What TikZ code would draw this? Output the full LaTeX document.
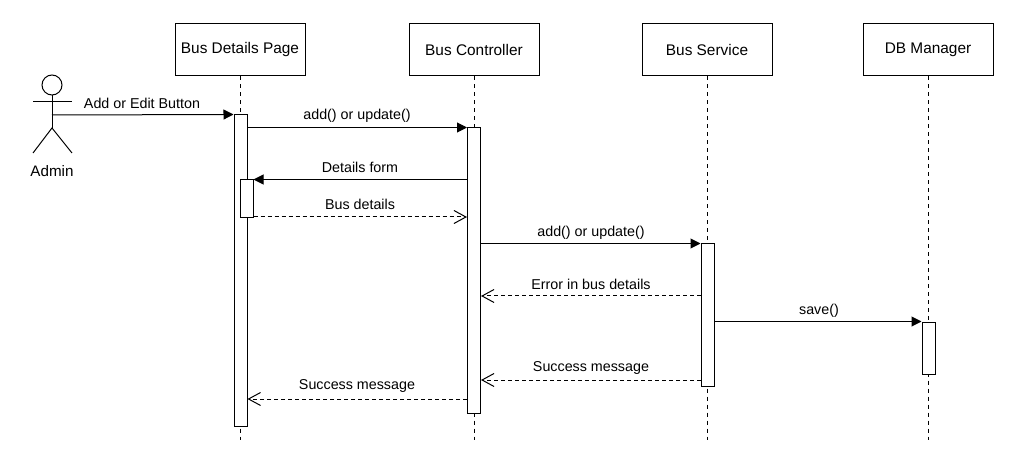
\documentclass[tikz,border=0pt]{standalone}
\usepackage{fontspec}
\setmainfont{Liberation Sans}
\usetikzlibrary{positioning}
\usetikzlibrary{arrows.meta}

\begin{document}
\begin{tikzpicture}
		[x=1pt, y=-1pt, line width=1pt, font=\fontsize{14.3}{17}\selectfont,
		head/.style={rectangle, draw=black, minimum width=130pt, minimum height=52pt, inner sep=0pt, font=\fontsize{15.4}{18}\selectfont},
		bar/.style={rectangle, draw=black, fill=white, minimum width=13pt, inner sep=0pt},
		lifeline/.style={dash pattern=on 4pt off 4pt},
		call/.style={-{Triangle[width=10pt,length=10pt]}},
		reply/.style={dash pattern=on 4pt off 3pt, -{Straight Barb[length=12pt,width=13pt]}},
		label/.style={inner sep=0pt}]
		\useasboundingbox (0,0) rectangle (1010,449);

		% header boxes
		\node[head] (page) at (240,50) {Bus Details Page};
		\node[head] (ctrl) at (474,50) {Bus Controller};
		\node[head] (serv) at (707,50) {Bus Service};
		\node[head] (dbm) at (928,50) {DB Manager};

		\coordinate (pageend) at (240,440);
		\coordinate (ctrlend) at (474,440);
		\coordinate (servend) at (707,440);
		\coordinate (dbmend) at (928,440);
		\draw[lifeline] (page.south) -- (pageend);
		\draw[lifeline] (ctrl.south) -- (ctrlend);
		\draw[lifeline] (serv.south) -- (servend);
		\draw[lifeline] (dbm.south) -- (dbmend);

		% activation bars
		\node[bar, minimum height=311pt] (pagebar) at (240.5,270.5) {};
		\node[bar, minimum height=38pt] (formbar) at (246.5,199) {};
		\node[bar, minimum height=285pt] (ctrlbar) at (474,270.5) {};
		\node[bar, minimum height=142pt] (servbar) at (707.5,315) {};
		\node[bar, minimum height=52pt] (dbmbar) at (928.5,348) {};

		% actor
		\node[circle, draw=black, minimum size=20pt, inner sep=0pt] (adminhead) at (52,85) {};
		\coordinate (armleft) at (33,102);
		\coordinate (armright) at (72,102);
		\coordinate (hip) at (52,128);
		\coordinate (footleft) at (33,153);
		\coordinate (footright) at (72,153);
		\coordinate (hand) at (52,115);
		\draw (adminhead.south) -- (hip);
		\draw (armleft) -- (armright);
		\draw (footleft) -- (hip) -- (footright);
		\node[label, font=\fontsize{15.2}{18}\selectfont] (admin) at (52,171) {Admin};

		% messages
		\coordinate (m1) at (pagebar.north west);
		\draw[call] (hand) -- (m1);
		\node[label] (m1text) at (142,103) {Add or Edit Button};

		\coordinate (m2) at (pagebar.east |- ctrlbar.north);
		\draw[call] (m2) -- (ctrlbar.north west);
		\node[label] (m2text) at (357,116) {add() or update()};

		\coordinate (m3) at (ctrlbar.west |- formbar.north);
		\draw[call] (m3) -- (formbar.north east);
		\node[label] (m3text) at (360,167) {Details form};

		\coordinate (m4) at (formbar.east |- 0,217);
		\coordinate (m4end) at (ctrlbar.west |- 0,217);
		\draw[reply] (m4) -- (m4end);
		\node[label] (m4text) at (360,204) {Bus details};

		\coordinate (m5) at (ctrlbar.east |- servbar.north);
		\draw[call] (m5) -- (servbar.north west);
		\node[label] (m5text) at (591,233) {add() or update()};

		\coordinate (m6) at (servbar.west |- 0,296);
		\coordinate (m6end) at (ctrlbar.east |- 0,296);
		\draw[reply] (m6) -- (m6end);
		\node[label] (m6text) at (591,284) {Error in bus details};

		\coordinate (m7) at (servbar.east |- dbmbar.north);
		\draw[call] (m7) -- (dbmbar.north west);
		\node[label] (m7text) at (819,311) {save()};

		\coordinate (m8) at (servbar.west |- 0,380);
		\coordinate (m8end) at (ctrlbar.east |- 0,380);
		\draw[reply] (m8) -- (m8end);
		\node[label] (m8text) at (591,368) {Success message};

		\coordinate (m9) at (ctrlbar.west |- 0,399);
		\coordinate (m9end) at (pagebar.east |- 0,399);
		\draw[reply] (m9) -- (m9end);
		\node[label] (m9text) at (357,386) {Success message};
	\end{tikzpicture}
\end{document}
